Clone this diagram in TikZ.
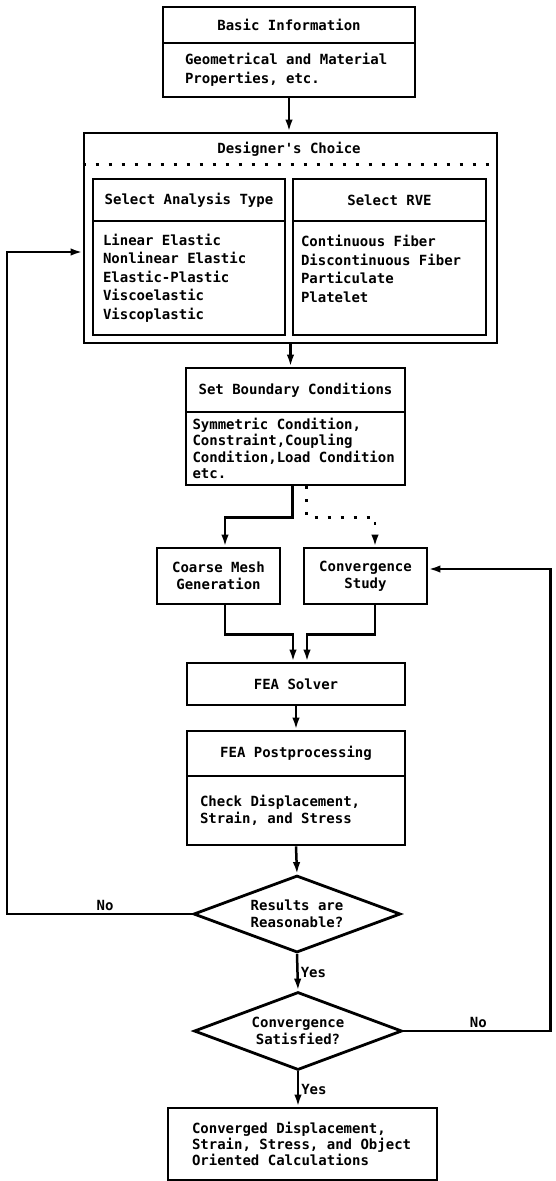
\documentclass[tikz,border=0pt]{standalone}
\usepackage{fontspec}
\newfontfamily\plotfont{DejaVu Sans Mono}[WordSpace={1,0,0}]
\usepackage{tikz}
\usetikzlibrary{arrows.meta,positioning,calc,shapes.geometric}
\tikzset{
  lh/.style={font=\plotfont\bfseries\fontsize{14}{#1}\selectfont},
  lh/.default={17.5},
  box/.style={draw,line width=2.8pt,inner sep=0pt,align=center},
  body/.style={box,align=left,text width=#1,execute at begin node={\spaceskip=0pt\xspaceskip=0pt\relax}},
  dia/.style={draw,diamond,line width=2.8pt,aspect=2.7,inner sep=0pt,align=center},
  arr/.style={-{Latex[length=12pt,width=7.5pt]},line width=2.5pt},
  dotl/.style={line width=2.8pt,dash pattern=on 3pt off 10pt},
  lbl/.style={inner sep=2pt},
}

\begin{document}
\begin{tikzpicture}[x=1pt,y=-1pt,every node/.style={lh}]
 \useasboundingbox (0,0) rectangle (556,1181);
 \node[box,minimum width=252pt,minimum height=36pt] (bt) at (289,25){Basic Information};
 \node[body=208pt,inner xsep=22pt,minimum height=54pt,lh=19] (bb) at (289,70){Geometrical and Material\\Properties, etc.};
 \node[box,minimum width=413pt,minimum height=210pt] (dc) at (290.5,238){};
 \node (dct) at (289,149){Designer's Choice};
 \draw[dotl] ([yshift=-33pt]dc.north west) -- ([yshift=-33pt]dc.north east);
 \node[box,minimum width=192pt,minimum height=42pt] (at) at (189,200){Select Analysis Type};
 \node[body=172pt,inner xsep=10pt,minimum height=114pt,lh=18.5] (ab) at (189,278){Linear Elastic\\Nonlinear Elastic\\Elastic-Plastic\\Viscoelastic\\Viscoplastic};
 \node[box,minimum width=193pt,minimum height=42pt] (rt) at (389.5,200){Select RVE};
 \node[body=177pt,inner xsep=8pt,minimum height=114pt,lh=18.5] (rb) at (389.5,278){Continuous Fiber\\Discontinuous Fiber\\Particulate\\Platelet\\\mbox{}};
 \node[box,minimum width=219pt,minimum height=44pt] (st) at (295.5,390){Set Boundary Conditions};
 \node[body=206pt,inner xsep=6.5pt,minimum height=73pt,lh=16.5] (sb) at (295.5,448.5){Symmetric Condition,\\Constraint,Coupling\\Condition,Load~Condition\\etc.};
 \node[box,minimum width=123pt,minimum height=56pt] (cm) at (218.5,576){Coarse Mesh\\Generation};
 \node[box,minimum width=123pt,minimum height=56pt] (cs) at (365.5,576){Convergence\\Study};
 \node[box,minimum width=218pt,minimum height=42pt] (fs) at (296,684){FEA Solver};
 \node[box,minimum width=218pt,minimum height=45pt] (pt) at (296,753.5){FEA Postprocessing};
 \node[body=192pt,inner xsep=13pt,minimum height=69pt] (pb) at (296,810.5){Check Displacement,\\Strain, and Stress};
 \node[dia,minimum width=207pt,minimum height=77pt] (d1) at (297,914){Results are\\Reasonable?};
 \node[dia,minimum width=208pt,minimum height=78pt] (d2) at (298,1031){Convergence\\Satisfied?};
 \node[body=221pt,inner xsep=24pt,minimum height=72pt,lh=16] (fb) at (302.5,1144){Converged Displacement,\\Strain, Stress, and Object\\Oriented Calculations};
 \draw[arr] (bb.south) -- (bb.south |- dc.north);
 \draw[arr] (dc.south) -- (dc.south |- st.north);
 \draw[arr] ([xshift=-3pt]sb.south) -- ++(0,31) -| ([xshift=6.5pt]cm.north);
 \draw[arr,dotl] ([xshift=11pt]sb.south) -- ++(0,31) -| ([xshift=9.5pt]cs.north);
 \draw[arr] ([xshift=6.5pt]cm.south) -- ++(0,29) -| ([xshift=-3pt]fs.north);
 \draw[arr] ([xshift=9.5pt]cs.south) -- ++(0,29) -| ([xshift=11pt]fs.north);
 \draw[arr] (fs) -- (pt);
 \draw[arr] (pb.south) -- (d1.north);
 \draw[arr] (d1.south) -- node[lbl,right]{Yes} (d2.north);
 \draw[arr] (d2.south) -- node[lbl,right]{Yes} (d2.south |- fb.north);
 \draw[arr] (d1.west) -- node[lbl,above,pos=0.47]{No} ++(-185,0) |- ([yshift=-14pt]dc.west);
 \draw[arr] (d2.east) -- node[lbl,above,pos=0.51]{No} ++(147,0) |- ([yshift=7pt]cs.east);
\end{tikzpicture}
\end{document}
